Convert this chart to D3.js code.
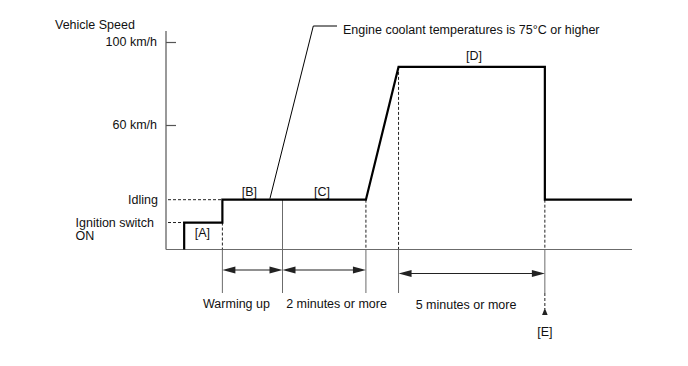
<!DOCTYPE html>
<html><head><meta charset="utf-8">
<script src="https://cdn.jsdelivr.net/npm/d3@7"></script>
<style>
html,body{margin:0;padding:0;background:#fff;}
svg text{font-family:"Liberation Sans",Arial,sans-serif;font-size:12.5px;fill:#111;}
</style></head><body>
<svg id="chart" width="688" height="366"></svg>
<script>
// ---- data ----
const speedTicks = [100, 60];
const speedTickLabels = ["100 km/h", "60 km/h"];
const levelNames = ["Idling", "Ignition switch"];
const idlingSpeed = 24;
const ignitionSpeed = 13;
const topSpeed = 88;
// vehicle speed profile (schematic time units 0..100)
const profileTime  = [3.9, 3.9, 12.1, 12.1, 42.9, 49.9, 81.3, 81.3, 100];
const profileSpeed = [0, 13, 13, 24, 24, 88, 88, 24, 24];
const periodStart = [12.1, 25, 49.9];
const periodEnd   = [25, 42.9, 81.3];
const periodLabels = ["Warming up", "2 minutes or more", "5 minutes or more"];
const phaseLabels = ["[A]", "[B]", "[C]", "[D]", "[E]"];
const phaseTime   = [7.8, 17.9, 33.5, 66.1, 81.3];
const phaseSpeed  = [8, 28, 28, 93.5, null];
const coolantNote = "Engine coolant temperatures is 75°C or higher";
const coolantTime = 22.3;

// ---- scales ----
const svg = d3.select("#chart");
const x = d3.scaleLinear().domain([0, 100]).range([166, 632]);
const y = d3.scaleLinear().domain([0, 100]).range([249.5, 42]);
const base = y(0);
const belowY = 293;
const gray = "#6b6b6b";
const dark = "#222";

// axes
svg.append("line").attr("x1", x(0)).attr("x2", x(0)).attr("y1", 31).attr("y2", base)
  .attr("stroke", "#555").attr("stroke-width", 1.2);
svg.append("line").attr("x1", x(0)).attr("x2", x(100)).attr("y1", base).attr("y2", base)
  .attr("stroke", gray).attr("stroke-width", 1.2);
const yAxis = d3.axisRight(y).tickValues(speedTicks).tickSize(10).tickFormat("");
const gAx = svg.append("g").attr("transform", `translate(${x(0)},0)`).call(yAxis);
gAx.select(".domain").remove();
gAx.selectAll(".tick line").attr("stroke", "#555").attr("stroke-width", 1.2);

svg.append("text").attr("x", 55).attr("y", 29).text("Vehicle Speed");
speedTicks.forEach((v, i) => {
  svg.append("text").attr("x", 157).attr("y", y(v)).attr("dy", "0.35em")
    .attr("text-anchor", "end").text(speedTickLabels[i]);
});
svg.append("text").attr("x", 158).attr("y", y(idlingSpeed)).attr("dy", "0.35em")
  .attr("text-anchor", "end").text(levelNames[0]);
svg.append("text").attr("x", 75.5).attr("y", y(ignitionSpeed)).attr("dy", "0.35em").text(levelNames[1]);
svg.append("text").attr("x", 75.5).attr("y", y(ignitionSpeed) + 13.5).attr("dy", "0.35em").text("ON");

// dashed guides
const dash = "3,2";
function dline(x1, y1, x2, y2, dashed, color) {
  svg.append("line").attr("x1", x1).attr("y1", y1).attr("x2", x2).attr("y2", y2)
    .attr("stroke", color || (dashed ? dark : gray)).attr("stroke-width", 1)
    .attr("stroke-dasharray", dashed ? dash : null);
}
dline(x(0) + 2, y(ignitionSpeed), x(profileTime[1]), y(ignitionSpeed), true);
dline(x(0) + 2, y(idlingSpeed), x(profileTime[3]), y(idlingSpeed), true);
// verticals
dline(x(12.1), y(ignitionSpeed), x(12.1), base, true);
dline(x(12.1), base, x(12.1), belowY, false);
dline(x(25), y(idlingSpeed), x(25), belowY, false);
dline(x(42.9), y(idlingSpeed), x(42.9), base, true);
dline(x(42.9), base, x(42.9), belowY, false);
dline(x(49.9), y(topSpeed), x(49.9), base, true);
dline(x(49.9), base, x(49.9), belowY, false);
dline(x(81.3), y(idlingSpeed), x(81.3), base, true);
dline(x(81.3), base, x(81.3), belowY, false);
dline(x(81.3), belowY, x(81.3), 309, true);
svg.append("path").attr("d", `M${x(81.3)},308 L${x(81.3) - 2.8},315 L${x(81.3) + 2.8},315 Z`).attr("fill", dark);

// profile line
const line = d3.line().x(d => x(d[0])).y(d => y(d[1]));
svg.append("path").datum(profileTime.map((t, i) => [t, profileSpeed[i]]))
  .attr("d", line).attr("fill", "none").attr("stroke", "#000").attr("stroke-width", 2.2)
  .attr("stroke-linejoin", "miter");

// period arrows
const arrowY = [270, 270, 273.5];
function head(px, py, dir) {
  const L = 13, H = 3.6;
  svg.append("path").attr("d", `M${px},${py} L${px + dir * L},${py - H} L${px + dir * L},${py + H} Z`).attr("fill", dark);
}
periodStart.forEach((s, i) => {
  const a = x(s), b = x(periodEnd[i]), yy = arrowY[i];
  svg.append("line").attr("x1", a + 4).attr("x2", b - 4).attr("y1", yy).attr("y2", yy)
    .attr("stroke", dark).attr("stroke-width", 1.2);
  head(a, yy, 1); head(b, yy, -1);
});
const labelX = [236.5, 336.5, 466];
periodLabels.forEach((t, i) => {
  svg.append("text").attr("x", labelX[i]).attr("y", i === 2 ? 305 : 304).attr("dy", "0.35em")
    .attr("text-anchor", "middle").text(t);
});

// phase labels
phaseLabels.forEach((t, i) => {
  const yy = phaseSpeed[i] === null ? 332 : y(phaseSpeed[i]);
  svg.append("text").attr("x", x(phaseTime[i])).attr("y", yy).attr("dy", "0.35em")
    .attr("text-anchor", "middle").text(t);
});

// coolant leader
svg.append("path").attr("d", `M${x(coolantTime)},${y(idlingSpeed) - 1} L313.3,26 L337,26`)
  .attr("fill", "none").attr("stroke", "#000").attr("stroke-width", 1);
svg.append("text").attr("x", 343).attr("y", 29.5).attr("dy", "0.35em").text(coolantNote);
</script>
</body></html>
